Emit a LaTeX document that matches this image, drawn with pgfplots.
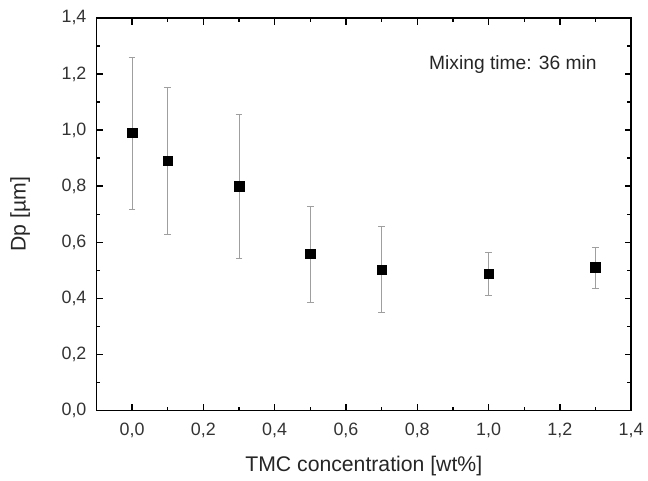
\documentclass[border=0pt]{standalone}
\usepackage{pgfplots}
\pgfplotsset{compat=1.18}
\usepackage{fontspec}
\setmainfont{Liberation Sans}

\begin{document}
\begin{tikzpicture}
\begin{axis}[
    scale only axis,
    width=403.5pt,
    height=296.25pt,
    xmin=-0.1, xmax=1.4,
    ymin=0, ymax=1.4,
    xtick={0,0.2,...,1.4},
    ytick={0,0.2,...,1.4},
    minor x tick num=1,
    minor y tick num=1,
    tick align=inside,
    major tick length=5pt,
    minor tick length=3pt,
    axis line style={black, line width=1.3pt},
    every tick/.style={black, line width=1pt},
    /pgf/number format/.cd, fixed, fixed zerofill, precision=1, use comma, assume math mode=true,
    /pgfplots/.cd,
    tick label style={font=\fontsize{13.5}{15}\selectfont, text=black!80},
    yticklabel style={xshift=-4pt},
    xticklabel style={yshift=-6pt},
    xlabel={TMC concentration [wt\%]},
    ylabel={Dp [µm]},
    label style={font=\fontsize{16}{18}\selectfont, text=black!85},
    xlabel style={yshift=-7pt},
    ylabel style={yshift=17pt},
    clip=false,
]
\addplot[
    only marks,
    mark=square*,
    mark size=3.6pt,
    mark options={fill=black, draw=black},
    error bars/.cd,
        y dir=both, y explicit,
        error bar style={gray!75, line width=0.6pt},
        error mark options={gray!75, line width=0.6pt, mark size=2.5pt, rotate=90},
] coordinates {
    (0.0,0.990) += (0,0.269) -= (0,0.272)
    (0.1,0.890) += (0,0.261) -= (0,0.261)
    (0.3,0.800) += (0,0.256) -= (0,0.258)
    (0.5,0.559) += (0,0.170) -= (0,0.173)
    (0.7,0.502) += (0,0.154) -= (0,0.152)
    (1.0,0.488) += (0,0.077) -= (0,0.076)
    (1.3,0.510) += (0,0.072) -= (0,0.076)
};
\node[anchor=east, font=\fontsize{14.5}{16}\selectfont, text=black!85] at (axis cs:1.316,1.234) {Mixing time: 36 min};
\end{axis}
\path ([shift={(-72.75pt,-52.5pt)}]current axis.south west) rectangle ([shift={(9.75pt,13.5pt)}]current axis.north east);
\end{tikzpicture}
\end{document}
